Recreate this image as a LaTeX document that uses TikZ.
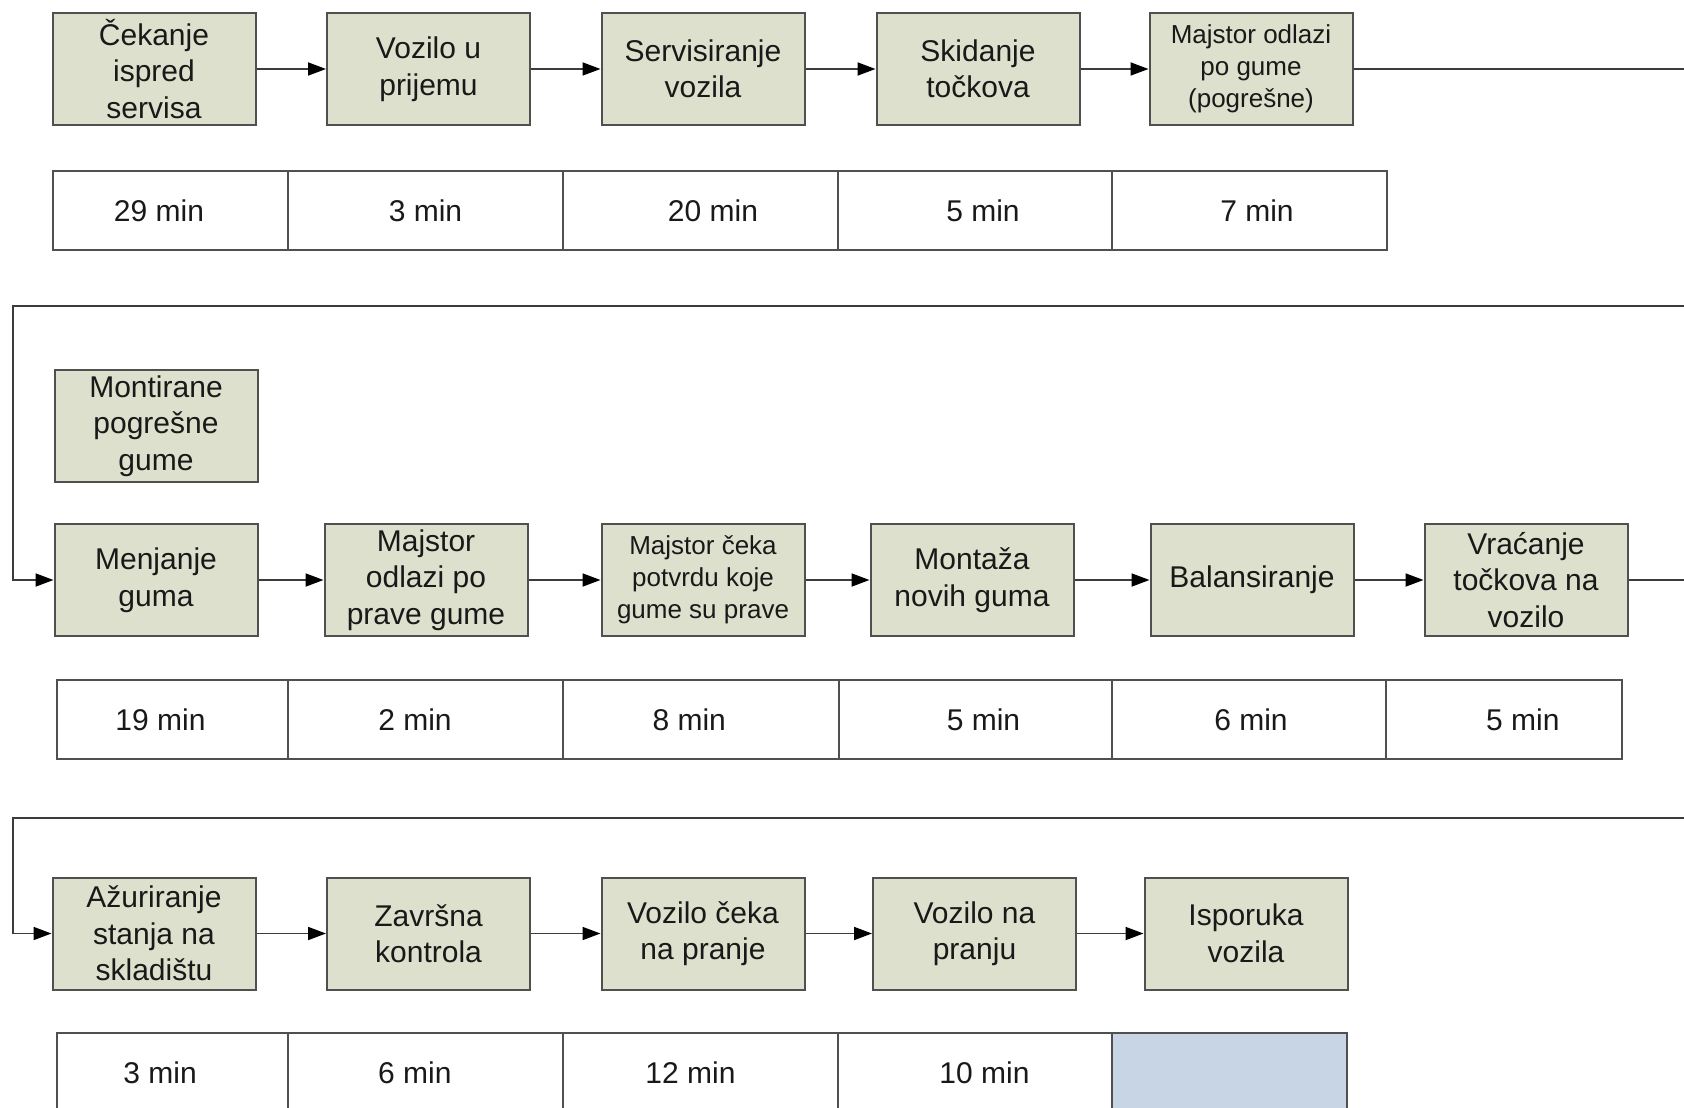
\documentclass[tikz,border=0pt]{standalone}
\usepackage{fontspec}
\setmainfont{Liberation Sans}
\usetikzlibrary{arrows.meta}
\definecolor{boxfill}{RGB}{221,224,204}
\definecolor{boxdraw}{RGB}{80,80,80}
\definecolor{linecol}{RGB}{60,60,60}
\definecolor{bluecell}{RGB}{200,213,228}
\definecolor{txt}{RGB}{25,25,25}
\begin{document}
\begin{tikzpicture}[x=0.5pt,y=-0.5pt,
  proc/.style={draw=boxdraw, fill=boxfill, line width=1pt, minimum width=101.5pt,
    minimum height=56pt, inner sep=0pt, align=center, text=txt,
    font=\fontsize{15}{18.25}\selectfont},
  procsm/.style={proc, font=\fontsize{13}{16}\selectfont},
  cell/.style={draw=boxdraw, fill=white, line width=0.8pt, minimum height=39.5pt,
    inner sep=0pt},
  lbl/.style={text=txt, font=\fontsize{15}{18}\selectfont, inner sep=0pt},
  flow/.style={draw=linecol, line width=0.9pt,
    -{Triangle[length=9pt,width=6.5pt,color=black]}},
  plain/.style={draw=linecol, line width=0.9pt}]
\useasboundingbox (0,0) rectangle (1684,1107);
\clip (0,0) rectangle (1684,1107);

% ---------- row 1 ----------
\node[proc]   (b1) at (154,69)    {Čekanje\\ispred\\servisa};
\node[proc]   (b2) at (428.5,69)  {Vozilo u\\prijemu};
\node[proc]   (b3) at (703,69)    {Servisiranje\\vozila};
\node[proc]   (b4) at (978,69)    {Skidanje\\točkova};
\node[procsm] (b5) at (1251,69)   {Majstor odlazi\\po gume\\(pogrešne)};

\draw[flow] (b1) -- (b2);
\draw[flow] (b2) -- (b3);
\draw[flow] (b3) -- (b4);
\draw[flow] (b4) -- (b5);

\node[cell, minimum width=117.5pt, label={[lbl, xshift=-5.75pt]center:29 min}] (t11) at (170.5,210.5) {};
\node[cell, minimum width=137.5pt, label={[lbl]center:3 min}] (t12) at (425.5,210.5) {};
\node[cell, minimum width=137.5pt, label={[lbl, xshift=6.25pt]center:20 min}] (t13) at (700.5,210.5) {};
\node[cell, minimum width=137pt, label={[lbl, xshift=4pt]center:5 min}] (t14) at (975,210.5) {};
\node[cell, minimum width=137.5pt, label={[lbl, xshift=3.75pt]center:7 min}] (t15) at (1249.5,210.5) {};

% ---------- row 2 ----------
\node[proc]   (mp) at (156,426)    {Montirane\\pogrešne\\gume};
\node[proc]   (m1) at (156,580)    {Menjanje\\guma};
\node[proc]   (m2) at (426,580)    {Majstor\\odlazi po\\prave gume};
\node[procsm] (m3) at (703,580)    {Majstor čeka\\potvrdu koje\\gume su prave};
\node[proc]   (m4) at (972,580)    {Montaža\\novih guma};
\node[proc]   (m5) at (1252,580)   {Balansiranje};
\node[proc]   (m6) at (1526,580)   {Vraćanje\\točkova na\\vozilo};

\coordinate (w1a) at (1700,69);
\coordinate (w1b) at (13,306);
\draw[flow] (b5.east) -- (w1a) |- (w1b) |- (m1.west);

\draw[flow] (m1) -- (m2);
\draw[flow] (m2) -- (m3);
\draw[flow] (m3) -- (m4);
\draw[flow] (m4) -- (m5);
\draw[flow] (m5) -- (m6);

\node[cell, minimum width=115.5pt, label={[lbl, xshift=-6pt]center:19 min}] (t21) at (172.5,719.5) {};
\node[cell, minimum width=137.5pt, label={[lbl, xshift=-5.25pt]center:2 min}] (t22) at (425.5,719.5) {};
\node[cell, minimum width=138pt, label={[lbl, xshift=-5.9pt]center:8 min}] (t23) at (701,719.5) {};
\node[cell, minimum width=136.5pt, label={[lbl, xshift=4pt]center:5 min}] (t24) at (975.5,719.5) {};
\node[cell, minimum width=137pt, label={[lbl, xshift=1pt]center:6 min}] (t25) at (1249,719.5) {};
\node[cell, minimum width=118pt, label={[lbl, xshift=9.4pt]center:5 min}] (t26) at (1504,719.5) {};

% ---------- row 3 ----------
\node[proc] (a1) at (154,933.5)    {Ažuriranje\\stanja na\\skladištu};
\node[proc] (a2) at (428.5,933.5)  {Završna\\kontrola};
\node[proc] (a3) at (703,933.5)    {Vozilo čeka\\na pranje};
\node[proc] (a4) at (974.5,933.5)  {Vozilo na\\pranju};
\node[proc] (a5) at (1246,933.5)   {Isporuka\\vozila};

\coordinate (w2a) at (1700,580);
\coordinate (w2b) at (13,818);
\draw[flow] (m6.east) -- (w2a) |- (w2b) |- (a1.west);

\draw[flow] (a1) -- (a2);
\draw[flow] (a2) -- (a3);
\draw[flow] (a3) -- (a4);
\draw[flow] (a4) -- (a5);

\node[cell, minimum width=115.5pt, label={[lbl, xshift=-6.2pt]center:3 min}] (t31) at (172.5,1072.5) {};
\node[cell, minimum width=137.5pt, label={[lbl, xshift=-5.3pt]center:6 min}] (t32) at (425.5,1072.5) {};
\node[cell, minimum width=137.5pt, label={[lbl, xshift=-5pt]center:12 min}] (t33) at (700.5,1072.5) {};
\node[cell, minimum width=137pt, label={[lbl, xshift=4.75pt]center:10 min}] (t34) at (975,1072.5) {};
\node[cell, fill=bluecell, minimum width=117.5pt] (t35) at (1229.5,1072.5) {};
\end{tikzpicture}
\end{document}
